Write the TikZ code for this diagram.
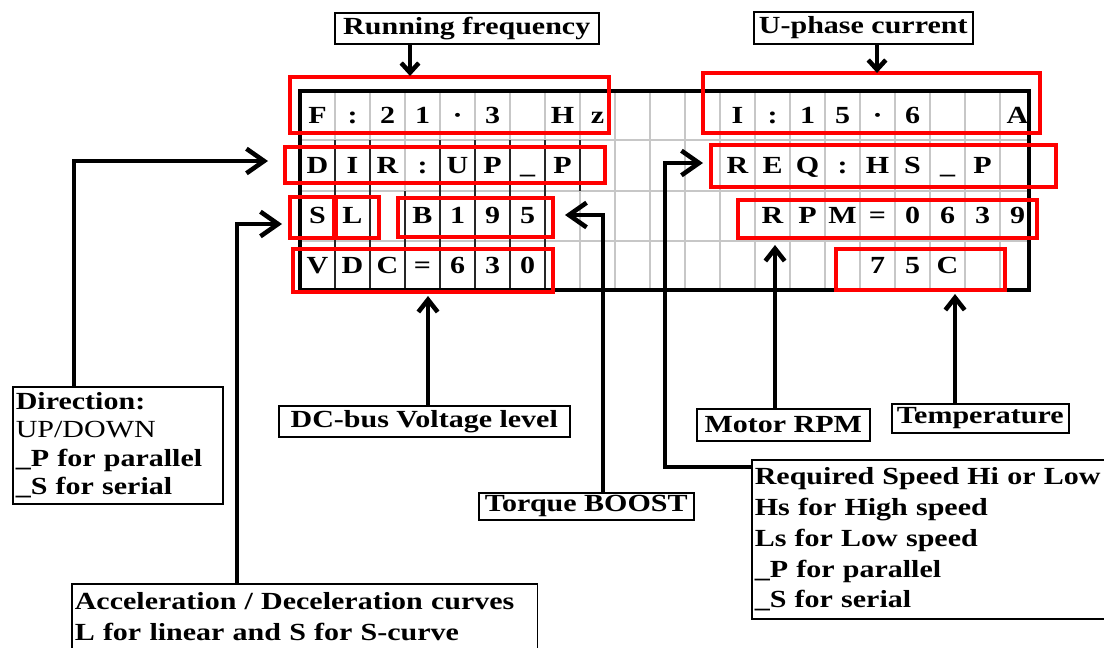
\documentclass[tikz,border=0pt]{standalone}
\usepackage{fontspec}
\setmainfont{Liberation Serif}[FakeStretch=1.22]
\usetikzlibrary{arrows.meta}

\tikzset{
  lbl/.style={draw=black, line width=0.9pt, fill=white, inner sep=0pt, anchor=north west,
    font=\fontsize{14}{16}\selectfont\bfseries},
  multi/.style={lbl, align=left, inner xsep=0.06cm},
  cell/.style={inner sep=0pt, anchor=base, font=\fontsize{14}{16}\selectfont\bfseries},
  gridline/.style={draw=black!22, line width=0.6pt},
  sep/.style={draw=black!85, line width=0.7pt},
  frame/.style={draw=black, line width=2.3pt},
  hl/.style={draw=red, line width=2.3pt},
  conn/.style={draw=black, line width=2.6pt},
  bigtip/.style={conn, -{Straight Barb[length=10pt,width=14pt]}},
  downtip/.style={conn, -{Straight Barb[length=5.5pt,width=10pt]}},
  uptip/.style={conn, -{Straight Barb[length=7pt,width=11pt]}},
}

\begin{document}
\begin{tikzpicture}[x=0.02cm, y=-0.02cm]
\useasboundingbox (0,0) rectangle (1104,647);
\clip (0,0) rectangle (1104,647);
\fill[white] (0,0) rectangle (1104,647);

% LCD cell grid
\foreach \c in {1,...,20} \draw[gridline] ({300+35*\c},91) -- ({300+35*\c},290);
\foreach \r in {140,191,241} \draw[gridline] (300,\r) -- (1029,\r);

% dark separators between the occupied cells
\foreach \x in {335,370,440,475,510,545,580} \draw[sep] (\x,140) -- (\x,191);
\foreach \x in {335,370,405,440,475,510,545} \draw[sep] (\x,191) -- (\x,241);
\foreach \x in {335,370,405,440,475,510,545} \draw[sep] (\x,241) -- (\x,290);

% display frame
\draw[frame] (300,91) rectangle (1029,290);

% line 1
\foreach \c/\t [count=\i] in {0/F,1/:,2/2,3/1,4/·,5/3,7/H,8/z,12/I,13/:,14/1,15/5,16/·,17/6,20/A}
  \node[cell] (la\i) at ({317.5+35*\c},123.5) {\t};
% line 2
\foreach \c/\t [count=\i] in {0/D,1/I,2/R,3/:,4/U,5/P,6/\_,7/P,12/R,13/E,14/Q,15/:,16/H,17/S,18/\_,19/P}
  \node[cell] (lb\i) at ({317.5+35*\c},173.5) {\t};
% line 3
\foreach \c/\t [count=\i] in {0/S,1/L,3/B,4/1,5/9,6/5,13/R,14/P,15/M,16/=,17/0,18/6,19/3,20/9}
  \node[cell] (lc\i) at ({317.5+35*\c},223.5) {\t};
% line 4
\foreach \c/\t [count=\i] in {0/V,1/D,2/C,3/=,4/6,5/3,6/0,16/7,17/5,18/C}
  \node[cell] (ld\i) at ({317.5+35*\c},273.5) {\t};

% highlighted fields
\draw[hl] (290,77) rectangle (609,133);
\draw[hl] (285,147) rectangle (605,183);
\draw[hl] (290,197) rectangle (334,238);
\draw[hl] (336,197) rectangle (379,238);
\draw[hl] (398,198) rectangle (553,237);
\draw[hl] (293,249) rectangle (553,292);
\draw[hl] (703,73) rectangle (1040,133);
\draw[hl] (711,145) rectangle (1056,187);
\draw[hl] (738,200) rectangle (1037,238);
\draw[hl] (836,249) rectangle (1005,290);

% captions
\node[lbl, minimum width=5.28cm, minimum height=0.62cm] (rf) at (334,12) {Running frequency};
\node[lbl, minimum width=4.38cm, minimum height=0.64cm] (up) at (753,11) {U-phase current};
\node[lbl, minimum width=5.82cm, minimum height=0.62cm] (dc) at (278,405) {DC-bus Voltage level};
\node[lbl, minimum width=4.30cm, minimum height=0.54cm] (tq) at (478,492) {Torque BOOST};
\node[lbl, minimum width=3.46cm, minimum height=0.64cm] (rpm) at (696,408) {Motor RPM};
\node[lbl, minimum width=3.54cm, minimum height=0.58cm] (tmp) at (891,403) {Temperature};
\node[multi, text width=4.08cm, minimum height=2.34cm, font=\fontsize{14}{16.2}\selectfont\bfseries] (dir) at (12,386)
  {Direction:\\ {\mdseries UP/DOWN}\\ \_P for parallel\\ \_S for serial};
\node[multi, text width=9.2cm, minimum height=1.3cm, font=\fontsize{14}{17.6}\selectfont\bfseries] (acc) at (71,583)
  {Acceleration / Deceleration curves\\ L for linear and S for S-curve};
\node[multi, text width=7.16cm, minimum height=3.18cm, font=\fontsize{14}{17.6}\selectfont\bfseries] (req) at (751,459)
  {Required Speed Hi or Low\\ Hs for High speed\\ Ls for Low speed\\ \_P for parallel\\ \_S for serial};

% connector end points
\coordinate (rfTip) at (410,76);
\coordinate (upTip) at (877,73);
\coordinate (dcTip) at (428,296);
\coordinate (rpmTip) at (775,245);
\coordinate (tmpTip) at (955,294);
\coordinate (dirBend) at (74,161);
\coordinate (dirTip) at (268,161);
\coordinate (accBend) at (237,224);
\coordinate (accTip) at (282,224);
\coordinate (tqBend) at (603,215);
\coordinate (tqTip) at (565,215);
\coordinate (reqBend) at (665,467);
\coordinate (reqTip) at (703,163);

% connectors
\draw[downtip] (rfTip |- rf.south) -- (rfTip);
\draw[downtip] (upTip |- up.south) -- (upTip);
\draw[uptip] (dcTip |- dc.north) -- (dcTip);
\draw[uptip] (rpmTip |- rpm.north) -- (rpmTip);
\draw[uptip] (tmpTip |- tmp.north) -- (tmpTip);
\draw[bigtip] (dirBend |- dir.north) -- (dirBend) -- (dirTip);
\draw[bigtip] (accBend |- acc.north) -- (accBend) -- (accTip);
\draw[bigtip] (tqBend |- tq.north) -- (tqBend) -- (tqTip);
\draw[bigtip] (req.west |- reqBend) -- (reqBend) |- (reqTip);
\end{tikzpicture}
\end{document}
